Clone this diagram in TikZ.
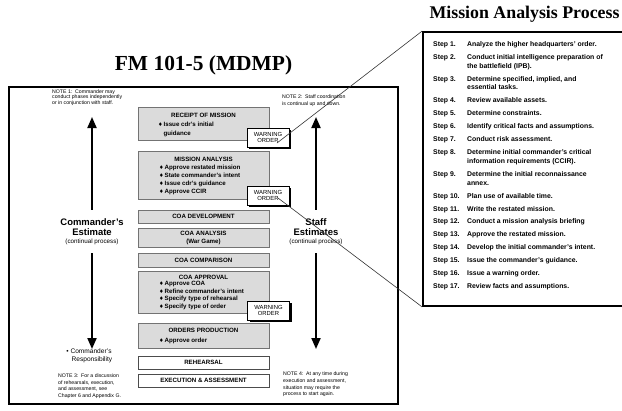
\documentclass[tikz,border=0pt]{standalone}
\usepackage{fontspec}
\setmainfont{Liberation Sans}
\newfontfamily\headfont{Liberation Serif}
\newfontfamily\symfont{DejaVu Sans}
\usetikzlibrary{arrows.meta,shadows}

\newcommand{\fsz}[2]{\fontsize{#1}{#2}\selectfont}
\newcommand{\dbul}{{\symfont\fsz{5.2}{5.2}♦}\hspace{0.8bp}}
\newcommand{\dgap}{\hphantom{\dbul}}

\begin{document}
\begin{tikzpicture}[x=1bp,y=-1bp,
  outline/.style={draw=black,line width=1.8bp,inner sep=0},
  phase/.style={draw=black!55,fill=black!14,line width=0.8bp,
    minimum width=131bp,inner sep=0},
  plainphase/.style={phase,fill=white,draw=black!70},
  ptitle/.style={font=\bfseries\fsz{6.2}{7.5},inner sep=0,align=center},
  pbullets/.style={font=\bfseries\fsz{6.2}{8},inner sep=0,align=left,anchor=west},
  wobox/.style={draw=black,fill=white,line width=0.9bp,minimum width=42bp,
    minimum height=19bp,inner sep=0,align=center,font=\fsz{5.9}{6.8},
    general shadow={fill=black,shadow xshift=2bp,shadow yshift=-2bp}},
  notetext/.style={font=\fsz{5.2}{6.2},inner sep=0,align=left,anchor=north west},
  estimate/.style={font=\bfseries\fsz{9.5}{10.5},inner sep=0,outer ysep=8.5bp,align=center},
  bigarrow/.style={line width=2bp,-{Triangle[length=11bp,width=9bp]}},
  zoomline/.style={line width=0.6bp,draw=black!80}]
\useasboundingbox (0,0) rectangle (622,410);

% headings
\node[font=\headfont\bfseries\fsz{21.5}{24},inner sep=0] (fmtitle) at (203.5,65) {FM 101-5 (MDMP)};
\node[font=\headfont\bfseries\fsz{17.9}{20},inner sep=0] (matitle) at (524.5,14) {Mission Analysis Process};

% outer frame of the MDMP chart
\node[outline,minimum width=389bp,minimum height=317bp] (chart) at (203.5,245.5) {};

% phases
\node[phase,minimum height=33bp] (rcpt) at (203.5,123.5) {};
\node[phase,minimum height=48bp] (mana) at (203.5,175) {};
\node[phase,minimum height=13bp] (coadev) at (203.5,216.5) {};
\node[phase,minimum height=19bp] (coaan) at (203.5,237.5) {};
\node[phase,minimum height=14bp] (coacmp) at (203.5,260) {};
\node[phase,minimum height=42bp] (coaapp) at (203.5,292) {};
\node[phase,minimum height=25bp] (ordp) at (203.5,335.5) {};
\node[plainphase,minimum height=13bp] (reh) at (203.5,362.5) {};
\node[plainphase,minimum height=13bp] (exe) at (203.5,380.5) {};

\node[ptitle] (rcpt-t) at (203.5,115) {RECEIPT OF MISSION};
\node[pbullets,font=\bfseries\fsz{6.2}{9}] (rcpt-b) at (158,129.5)
  {\dbul Issue cdr's initial\\\dgap guidance};

\node[ptitle] (mana-t) at (203.5,159) {MISSION ANALYSIS};
\node[pbullets] (mana-b) at (159,180)
  {\dbul Approve restated mission\\\dbul State commander's intent\\
   \dbul Issue cdr's guidance\\\dbul Approve CCIR};

\node[ptitle] (coadev-t) at (coadev) {COA DEVELOPMENT};
\node[ptitle,font=\bfseries\fsz{6.2}{8}] (coaan-t) at (203.5,237.5) {COA ANALYSIS\\(War Game)};
\node[ptitle] (coacmp-t) at (coacmp) {COA COMPARISON};

\node[ptitle] (coaapp-t) at (203.5,277) {COA APPROVAL};
\node[pbullets,font=\bfseries\fsz{6.2}{7.7}] (coaapp-b) at (159,295.5)
  {\dbul Approve COA\\\dbul Refine commander's intent\\
   \dbul Specify type of rehearsal\\\dbul Specify type of order};

\node[ptitle] (ordp-t) at (203.5,330) {ORDERS PRODUCTION};
\node[pbullets] (ordp-b) at (159,341) {\dbul Approve order};

\node[ptitle] (reh-t) at (reh) {REHEARSAL};
\node[ptitle] (exe-t) at (exe) {EXECUTION \& ASSESSMENT};

% commander's and staff estimates
\node[estimate] (cmdest) at (92,231.5)
  {Commander's\\Estimate\\[-2.5bp]{\mdseries\fsz{6.3}{7}(continual process)}};
\node[estimate] (stfest) at (316,231.5)
  {Staff\\Estimates\\[-2.5bp]{\mdseries\fsz{6.3}{7}(continual process)}};
\coordinate (cmdtop) at (92,117);
\coordinate (cmdbot) at (92,349);
\coordinate (stftop) at (316,117);
\coordinate (stfbot) at (316,349);
\draw[bigarrow] (cmdest.north) -- (cmdtop);
\draw[bigarrow] (cmdest.south) -- (cmdbot);
\draw[bigarrow] (stfest.north) -- (stftop);
\draw[bigarrow] (stfest.south) -- (stfbot);

\node[font=\fsz{6.6}{8},inner sep=0,align=center] (cmdresp) at (89,356)
  {\textbullet\ Commander's\\\hspace{6bp}Responsibility};

% notes
\node[notetext,font=\fsz{5.2}{5.4}] (note1) at (52,89.5)
  {NOTE 1:\ \ Commander may\\conduct phases independently\\or in conjunction with staff.};
\node[notetext] (note2) at (282,95)
  {NOTE 2:\ \ Staff coordination\\is continual up and down.};
\node[notetext,font=\fsz{5.2}{6.5}] (note3) at (58,374)
  {NOTE 3:\ \ For a discussion\\of rehearsals, execution,\\and assessment, see\\Chapter 6 and Appendix G.};
\node[notetext,font=\fsz{5.2}{6.6}] (note4) at (283,372)
  {NOTE 4:\ \ At any time during\\execution and assessment,\\situation may require the\\process to start again.};

% mission analysis steps (right edge runs off the page)
\node[outline,minimum width=210bp,minimum height=274bp] (mapbox) at (528,169) {};
\node[anchor=north west,inner sep=0,font=\bfseries\fsz{6.9}{8.7}] (steps) at (433,40.4) {%
\begin{tabular}{@{}p{34bp}@{}l@{}}
Step 1. & Analyze the higher headquarters' order.\\[4.3bp]
Step 2. & Conduct initial intelligence preparation of\\
        & the battlefield (IPB).\\[4.3bp]
Step 3. & Determine specified, implied, and\\
        & essential tasks.\\[4.3bp]
Step 4. & Review available assets.\\[4.3bp]
Step 5. & Determine constraints.\\[4.3bp]
Step 6. & Identify critical facts and assumptions.\\[4.3bp]
Step 7. & Conduct risk assessment.\\[4.3bp]
Step 8. & Determine initial commander's critical\\
        & information requirements (CCIR).\\[4.3bp]
Step 9. & Determine the initial reconnaissance\\
        & annex.\\[4.3bp]
Step 10. & Plan use of available time.\\[4.3bp]
Step 11. & Write the restated mission.\\[4.3bp]
Step 12. & Conduct a mission analysis briefing\\[4.3bp]
Step 13. & Approve the restated mission.\\[4.3bp]
Step 14. & Develop the initial commander's intent.\\[4.3bp]
Step 15. & Issue the commander's guidance.\\[4.3bp]
Step 16. & Issue a warning order.\\[4.3bp]
Step 17. & Review facts and assumptions.
\end{tabular}};

% warning orders
\node[wobox] (wo1) at (268,137.5) {WARNING\\ORDER};
\node[wobox] (wo2) at (268,195.5) {WARNING\\ORDER};
\node[wobox] (wo3) at (268.5,310.5) {WARNING\\ORDER};

% lines tying the step list to the mission analysis phase
\coordinate (wo1end) at (277,143);
\coordinate (wo2end) at (278,198);
\draw[zoomline] (mapbox.north west) -- (wo1end);
\draw[zoomline] (mapbox.south west) -- (wo2end);
\end{tikzpicture}
\end{document}
